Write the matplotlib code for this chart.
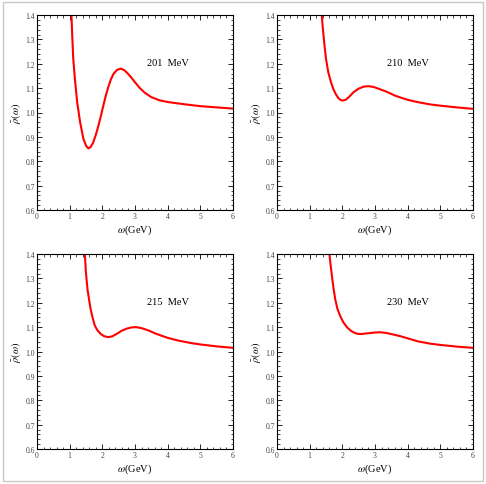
import matplotlib
matplotlib.use("Agg")
import matplotlib.pyplot as plt
from matplotlib.patches import Rectangle
from matplotlib.ticker import MultipleLocator

plt.rcParams["font.family"] = ["Liberation Serif", "DejaVu Serif"]
plt.rcParams["mathtext.fontset"] = "stix"

# ===== dados =====
labels = ["201  MeV", "210  MeV", "215  MeV", "230  MeV"]

w_201 = [1.04, 1.08, 1.11, 1.16, 1.23, 1.32, 1.42, 1.50, 1.57, 1.64, 1.72, 1.80,
         1.88, 1.96, 2.03, 2.10, 2.18, 2.26, 2.34, 2.45, 2.57, 2.68, 2.80, 2.90,
         3.00, 3.15, 3.30, 3.50, 3.75, 4.00, 4.50, 5.00, 5.50, 6.00]
r_201 = [1.45, 1.31, 1.22, 1.138, 1.042, 0.96, 0.892, 0.864, 0.853, 0.858, 0.877, 0.908,
         0.946, 0.988, 1.028, 1.066, 1.104, 1.135, 1.158, 1.175, 1.180, 1.173, 1.157, 1.141,
         1.124, 1.10, 1.081, 1.063, 1.05, 1.043, 1.034, 1.026, 1.021, 1.016]

w_210 = [1.35, 1.40, 1.45, 1.50, 1.57, 1.65, 1.73, 1.80, 1.88, 1.95, 2.01, 2.10,
         2.20, 2.34, 2.50, 2.65, 2.80, 2.95, 3.10, 3.36, 3.60, 3.77, 4.00, 4.33,
         4.70, 5.00, 5.50, 6.00]
r_210 = [1.43, 1.35, 1.28, 1.22, 1.165, 1.125, 1.095, 1.075, 1.059, 1.051, 1.049, 1.052,
         1.063, 1.083, 1.098, 1.106, 1.108, 1.105, 1.098, 1.085, 1.07, 1.062, 1.052, 1.042,
         1.033, 1.028, 1.021, 1.015]

w_215 = [1.45, 1.50, 1.55, 1.64, 1.70, 1.77, 1.85, 1.95, 2.05, 2.18, 2.30, 2.45,
         2.59, 2.75, 2.90, 3.03, 3.20, 3.40, 3.66, 4.00, 4.32, 4.70, 5.00, 5.50, 6.00]
r_215 = [1.43, 1.32, 1.25, 1.175, 1.14, 1.106, 1.087, 1.072, 1.063, 1.059, 1.062, 1.073,
         1.085, 1.094, 1.099, 1.10, 1.096, 1.087, 1.072, 1.056, 1.045, 1.035, 1.029, 1.021, 1.015]

w_230 = [1.58, 1.62, 1.68, 1.73, 1.78, 1.85, 1.93, 2.03, 2.14, 2.27, 2.40, 2.49,
         2.60, 2.80, 3.00, 3.16, 3.35, 3.55, 3.77, 4.00, 4.33, 4.70, 5.00, 5.50, 6.00]
r_230 = [1.43, 1.38, 1.311, 1.26, 1.216, 1.175, 1.147, 1.12, 1.10, 1.084, 1.075, 1.072,
         1.072, 1.075, 1.078, 1.079, 1.076, 1.07, 1.063, 1.054, 1.041, 1.032, 1.027, 1.02, 1.015]

series = [(w_201, r_201), (w_210, r_210), (w_215, r_215), (w_230, r_230)]

fig = plt.figure(figsize=(4.86, 4.85), dpi=100)

# moldura cinza em volta da figura
fig.patches.append(Rectangle((3 / 486, 3 / 485), 480 / 486, 479 / 485,
                             transform=fig.transFigure, fill=False,
                             edgecolor="#c8c8c8", linewidth=1.0))

lefts = [37 / 486, 277 / 486]
bottoms = [1 - 211 / 485, 1 - 450 / 485]
w_ax, h_ax = 196 / 486, 195 / 485

for i, ((x, y), lab) in enumerate(zip(series, labels)):
    ax = fig.add_axes([lefts[i % 2], bottoms[i // 2], w_ax, h_ax])
    ax.plot(x, y, color="red", linewidth=1.5, solid_joinstyle="round")
    ax.set_xlim(0, 6)
    ax.set_ylim(0.6, 1.4)
    ax.xaxis.set_major_locator(MultipleLocator(1))
    ax.xaxis.set_minor_locator(MultipleLocator(0.2))
    ax.yaxis.set_minor_locator(MultipleLocator(0.02))
    ax.set_yticks([0.6, 0.7, 0.8, 0.9, 1.0, 1.1, 1.2, 1.3, 1.4])
    ax.set_yticklabels(["0.6", "0.7", "0.8", "0.9", "1.0", "1.1", "1.2", "1.3", "1.4"])
    ax.tick_params(which="both", direction="in", top=True, right=True,
                   labelsize=5.5, labelcolor="#444444", pad=1.5)
    ax.tick_params(which="major", length=3.5, width=0.6)
    ax.tick_params(which="minor", length=1.8, width=0.5)
    for s in ax.spines.values():
        s.set_linewidth(0.8)
    ax.set_xlabel(r"$\omega$(GeV)", fontsize=7.5, labelpad=2)
    ax.set_ylabel(r"$\bar{\rho}(\omega)$", fontsize=7.5, labelpad=2)
    ax.text(4.0, 1.205, lab, fontsize=7.5, ha="center", va="center")

fig.savefig("out.png", dpi=100)
